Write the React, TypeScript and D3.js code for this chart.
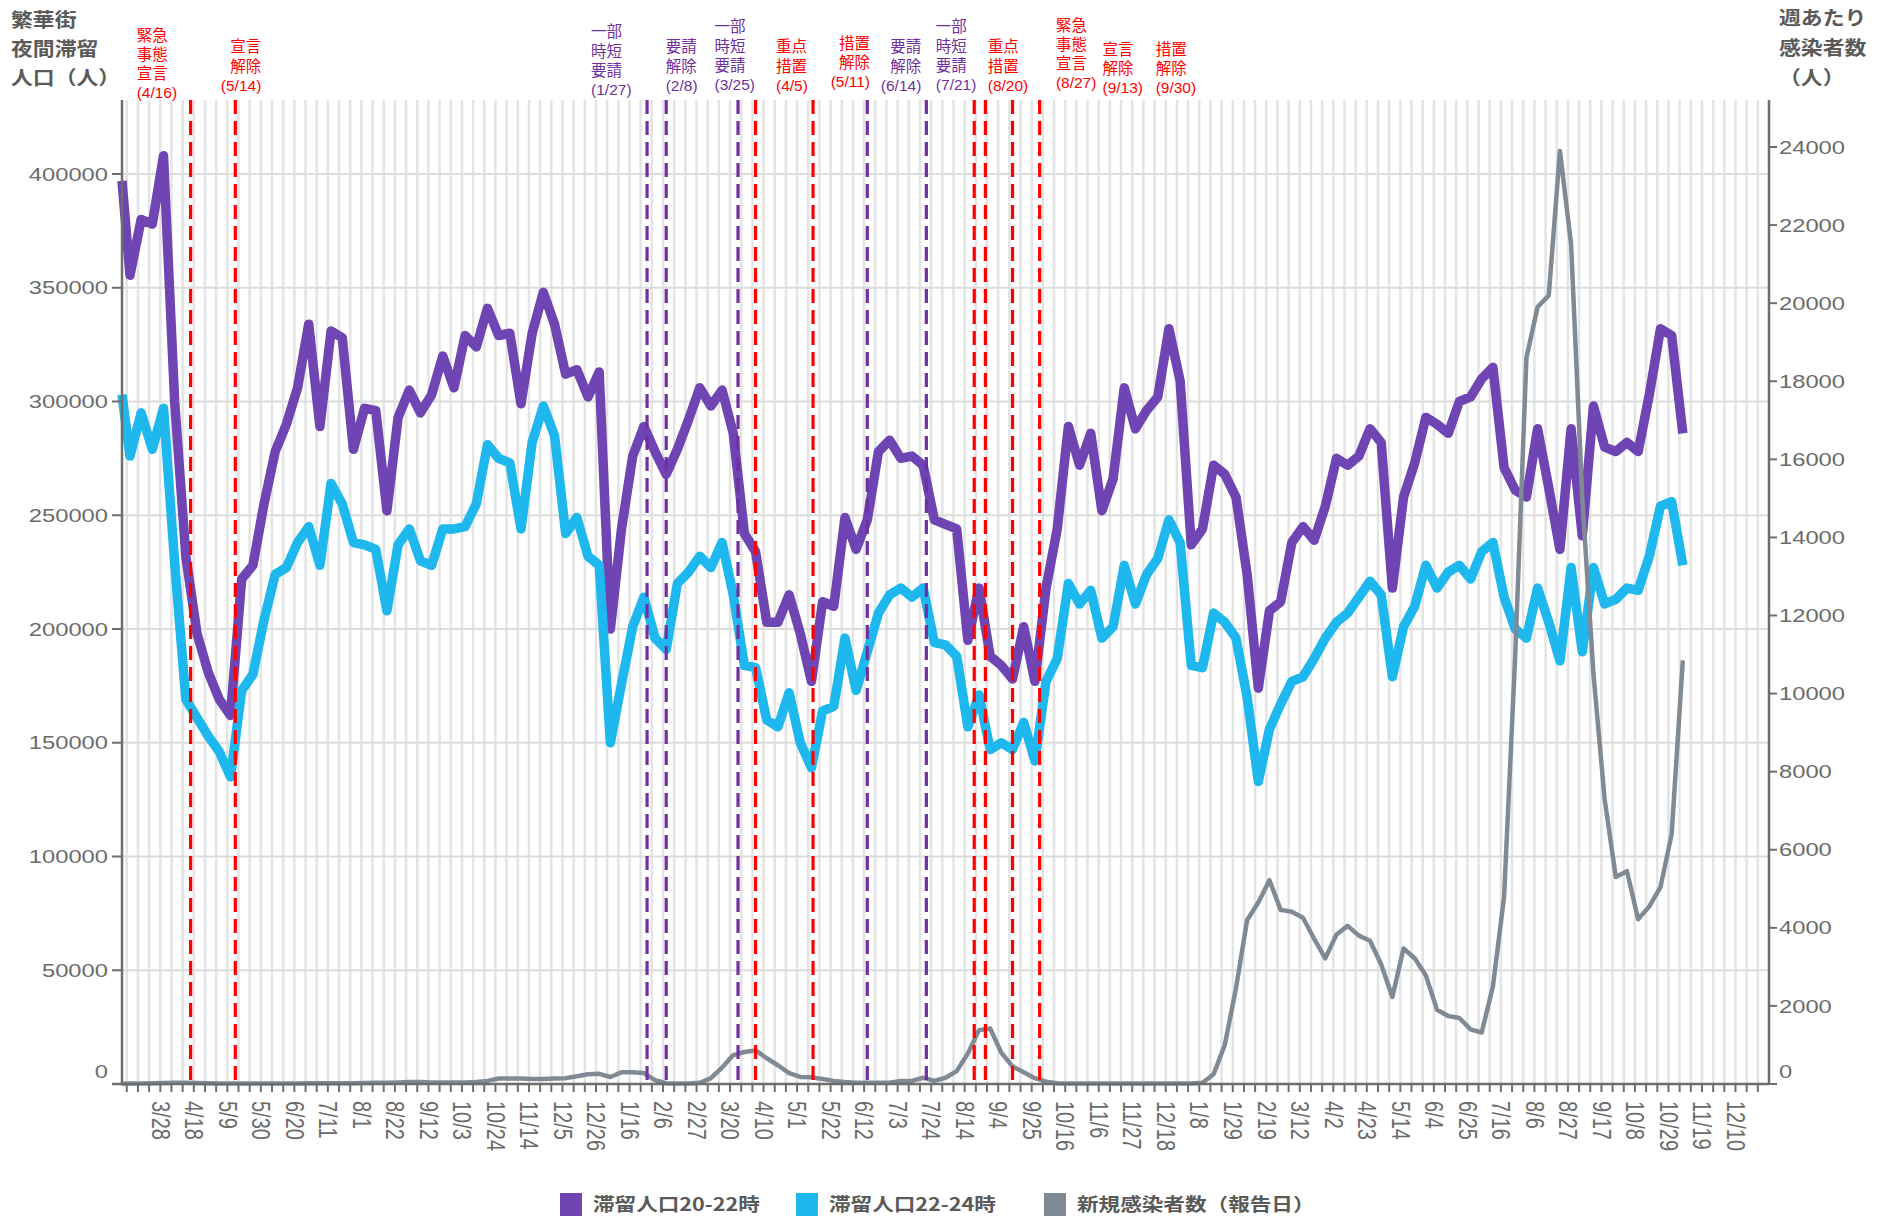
import React from 'react';
import * as d3 from 'd3';

// first point sits on the axis start (2020-03-04); then weekly points from 2020-03-09
const axisStart = new Date(2020, 2, 4);
const axisEnd = new Date(2022, 11, 31);
const firstWeek = new Date(2020, 2, 9);
const stay2022 = [397000, 355500, 380000, 378000, 408000, 300000, 232000, 198000, 181000, 169000, 162000,
  222000, 228000, 255000, 278000, 290000, 306000, 334000, 289000, 331000, 328000,
  279000, 297000, 296000, 252000, 293000, 305000, 295000, 303000, 320000, 306000,
  329000, 324000, 341000, 329000, 330000, 299000, 330000, 348000, 334000, 312000,
  314000, 302000, 313000, 200000, 244000, 276000, 289000, 278000, 268000, 279000,
  292000, 306000, 298000, 305000, 286000, 242000, 234000, 203000, 203000, 215000,
  198000, 177000, 212000, 210000, 249000, 235000, 248000, 278000, 283000, 275000,
  276000, 272000, 248000, 246000, 244000, 195000, 218000, 188000, 184000, 178000,
  201000, 177000, 218000, 244000, 289000, 272000, 286000, 252000, 266000, 306000,
  288000, 296000, 302000, 332000, 309000, 237000, 244000, 272000, 268000, 258000,
  224000, 174000, 208000, 212000, 238000, 245000, 239000, 254000, 275000, 272000,
  276000, 288000, 282000, 218000, 258000, 273000, 293000, 290000, 286000, 300000,
  302000, 310000, 315000, 271000, 261000, 258000, 288000, 262000, 235000, 288000,
  241000, 298000, 280000, 278000, 282000, 278000, 303000, 332000, 329000, 286000];
const stay2224 = [303000, 276000, 295000, 279000, 297000, 229000, 169000, 161000, 153000, 146000, 135000,
  173000, 180000, 204000, 224000, 227000, 238000, 245000, 228000, 264000, 255000,
  238000, 237000, 235000, 208000, 237000, 244000, 230000, 228000, 244000, 244000,
  245000, 255000, 281000, 275000, 273000, 244000, 282000, 298000, 285000, 242000,
  249000, 232000, 228000, 150000, 176000, 201000, 214000, 196000, 191000, 220000,
  225000, 232000, 227000, 238000, 215000, 184000, 183000, 160000, 157000, 172000,
  150000, 139000, 164000, 166000, 196000, 173000, 190000, 207000, 215000, 218000,
  214000, 218000, 194000, 193000, 188000, 157000, 171000, 147000, 150000, 147000,
  159000, 142000, 177000, 187000, 220000, 211000, 217000, 196000, 201000, 228000,
  211000, 224000, 231000, 248000, 238000, 184000, 183000, 207000, 203000, 196000,
  170000, 133000, 156000, 167000, 177000, 179000, 187000, 196000, 203000, 207000,
  214000, 221000, 215000, 179000, 201000, 210000, 228000, 218000, 225000, 228000,
  222000, 234000, 238000, 214000, 200000, 196000, 218000, 203000, 186000, 227000,
  190000, 227000, 211000, 213000, 218000, 217000, 232000, 254000, 256000, 228000];
const newCases = [5, 10, 15, 20, 25, 30, 30, 25, 20, 15, 10,
  10, 10, 10, 10, 10, 15, 20, 20, 20, 20,
  20, 25, 30, 30, 40, 50, 50, 40, 40, 40,
  40, 50, 80, 140, 140, 140, 130, 130, 140, 150,
  200, 250, 260, 180, 300, 300, 280, 100, 20, 10,
  10, 30, 150, 420, 740, 820, 860, 660, 480, 280,
  180, 170, 130, 80, 50, 30, 30, 30, 30, 80,
  80, 160, 80, 160, 330, 780, 1380, 1420, 800, 450,
  300, 150, 60, 20, 10, 10, 10, 10, 10, 10,
  10, 10, 10, 10, 10, 10, 30, 250, 1000, 2450,
  4200, 4650, 5220, 4460, 4410, 4260, 3720, 3220, 3830, 4050,
  3800, 3670, 3060, 2230, 3470, 3220, 2780, 1900, 1740, 1690,
  1400, 1320, 2500, 4790, 11000, 18600, 19900, 20200, 23900, 21500,
  15000, 10500, 7300, 5300, 5450, 4220, 4550, 5040, 6400, 10850];

const leftTicks = [0, 50000, 100000, 150000, 200000, 250000, 300000, 350000, 400000];
const rightTicks = [0, 2000, 4000, 6000, 8000, 10000, 12000, 14000, 16000, 18000, 20000, 22000, 24000];
const firstTickDay = new Date(2020, 2, 7);

const seriesNames = ['滞留人口20-22時', '滞留人口22-24時', '新規感染者数（報告日）'];
const seriesColors = ['#6e45b3', '#1fb8ee', '#808a95'];

const RED = '#ff0000';
const PUR = '#7030a0';
const eventDates = [new Date(2020, 3, 16), new Date(2020, 4, 14), new Date(2021, 0, 27), new Date(2021, 1, 8),
  new Date(2021, 2, 25), new Date(2021, 3, 5), new Date(2021, 4, 11), new Date(2021, 5, 14), new Date(2021, 6, 21),
  new Date(2021, 7, 20), new Date(2021, 7, 27), new Date(2021, 8, 13), new Date(2021, 8, 30)];
const eventLines = [['緊急', '事態', '宣言', '(4/16)'], ['宣言', '解除', '(5/14)'], ['一部', '時短', '要請', '(1/27)'],
  ['要請', '解除', '(2/8)'], ['一部', '時短', '要請', '(3/25)'], ['重点', '措置', '(4/5)'], ['措置', '解除', '(5/11)'],
  ['要請', '解除', '(6/14)'], ['一部', '時短', '要請', '(7/21)'], ['重点', '措置', '(8/20)'], ['緊急', '事態', '宣言', '(8/27)'],
  ['宣言', '解除', '(9/13)'], ['措置', '解除', '(9/30)']];
const eventColors = [RED, RED, PUR, PUR, PUR, RED, RED, PUR, PUR, RED, RED, RED, RED];
// label layout: horizontal offset from the event line, anchor, first-line centre y
const eventLabelDx = [-54, 26, -56, -0.5, -23.5, 20.4, 57, 54, 9.5, 13.5, 70.5, 90, 116];
const eventAnchor = ['start', 'end', 'start', 'start', 'start', 'start', 'end', 'end', 'start', 'start', 'start', 'start', 'start'];
const eventTop = [35, 46.7, 31.7, 46.7, 26.7, 46.7, 43.3, 46.7, 26.7, 46.7, 25, 49.3, 49.3];

const NUM_FONT = '"Liberation Sans", Arial, "Noto Sans CJK JP", sans-serif';
const JP_FONT = '"Noto Sans CJK JP", "Liberation Sans", sans-serif';
const LABEL_FONT = '"Liberation Sans", Arial, "Noto Sans CJK JP", sans-serif';

export default function App() {
  const W = 1879, H = 1217;
  const left = 122, right = 1769, top = 100, bottom = 1084;
  const x = d3.scaleTime().domain([axisStart, axisEnd]).range([left, right]);
  const yL = d3.scaleLinear().domain([0, 400000]).range([bottom, 174]);
  const yR = d3.scaleLinear().domain([0, 24000]).range([bottom, 147]);
  const dates = stay2022.map((_, i) => (i === 0 ? axisStart : d3.timeDay.offset(firstWeek, 7 * (i - 1))));
  const weekTicks: Date[] = [];
  for (let d = firstTickDay; d < axisEnd; d = d3.timeDay.offset(d, 7)) weekTicks.push(d);

  const lineL = d3.line<number>().x((_, i) => x(dates[i])).y(d => yL(d));
  const lineR = d3.line<number>().x((_, i) => x(dates[i])).y(d => yR(d));

  const TICK_SX = 1.25;
  const tickFs = 19;
  const tickColor = '#6b6b6b';
  const axisColor = '#6e6e6e';

  return (
    <svg width={W} height={H} style={{ position: 'absolute', left: 0, top: 0, background: '#fff' }}>
      <rect x={0} y={0} width={W} height={H} fill="#fff" />
      {/* vertical weekly grid */}
      {weekTicks.map((d, i) => (
        <line key={'vg' + i} x1={x(d)} x2={x(d)} y1={top} y2={bottom} stroke="#e4e4e4" strokeWidth={2.5} />
      ))}
      {/* horizontal grid */}
      {leftTicks.filter(v => v > 0).map(v => (
        <line key={'hg' + v} x1={left} x2={right} y1={yL(v)} y2={yL(v)} stroke="#dcdcdc" strokeWidth={2} />
      ))}
      {/* series */}
      <g fill="none" strokeLinejoin="round">
        <path d={lineL(stay2022) || ''} stroke={seriesColors[0]} strokeWidth={9.5} />
        <path d={lineL(stay2224) || ''} stroke={seriesColors[1]} strokeWidth={9.5} />
        <path d={lineR(newCases) || ''} stroke={seriesColors[2]} strokeWidth={4.5} />
      </g>
      {/* event lines */}
      {eventDates.map((d, i) => (
        <line key={'ev' + i} x1={x(d)} x2={x(d)} y1={top} y2={bottom} stroke={eventColors[i]} strokeWidth={3.2} strokeDasharray="14,7" />
      ))}
      {/* axes */}
      <line x1={left} x2={left} y1={top} y2={bottom} stroke={axisColor} strokeWidth={2.5} />
      <line x1={right} x2={right} y1={top} y2={bottom} stroke={axisColor} strokeWidth={2.5} />
      <line x1={left - 10} x2={right} y1={bottom} y2={bottom} stroke={axisColor} strokeWidth={2.5} />
      {leftTicks.map(v => (
        <g key={'lt' + v}>
          <line x1={left - 10} x2={left} y1={yL(v)} y2={yL(v)} stroke={axisColor} strokeWidth={2} />
          <text transform={`translate(108,${yL(v) - (v === 0 ? 13 : 0)}) scale(${TICK_SX},1)`} textAnchor="end" dy="0.35em"
            fontSize={tickFs} fontFamily={NUM_FONT} fill={tickColor}>{v}</text>
        </g>
      ))}
      {rightTicks.map(v => (
        <g key={'rt' + v}>
          <line x1={right} x2={right + 8} y1={yR(v)} y2={yR(v)} stroke={axisColor} strokeWidth={2} />
          <text transform={`translate(1779,${yR(v) - (v === 0 ? 13 : 0)}) scale(${TICK_SX},1)`} textAnchor="start" dy="0.35em"
            fontSize={tickFs} fontFamily={NUM_FONT} fill={tickColor}>{v}</text>
        </g>
      ))}
      {weekTicks.map((d, i) => (
        <g key={'bt' + i}>
          <line x1={x(d)} x2={x(d)} y1={bottom} y2={bottom + 8} stroke={axisColor} strokeWidth={2} />
          {i % 3 === 0 && i > 0 ? (
            <text transform={`translate(${x(d)},1101) scale(${TICK_SX},1) rotate(90)`} textAnchor="start" dy="0.35em"
              fontSize={20} fontFamily={NUM_FONT} fill={tickColor}>{`${d.getMonth() + 1}/${d.getDate()}`}</text>
          ) : null}
        </g>
      ))}
      {/* event labels */}
      {eventDates.map((d, i) => (
        <g key={'el' + i}>
          {eventLines[i].map((t, j) => (
            <text key={j} x={x(d) + eventLabelDx[i]} y={eventTop[i] + j * 19.3} dy="0.36em" textAnchor={eventAnchor[i] as any}
              fontSize={15.5} fontFamily={LABEL_FONT} fill={eventColors[i]}>{t}</text>
          ))}
        </g>
      ))}
      {/* axis titles */}
      {['繁華街', '夜間滞留', '人口（人）'].map((t, j) => (
        <text key={'lt' + j} transform={`translate(11,${20 + j * 29}) scale(1.15,1)`} dy="0.36em" fontSize={19} fontWeight="bold"
          fontFamily={JP_FONT} fill="#5a5a5a">{t}</text>
      ))}
      {['週あたり', '感染者数', '（人）'].map((t, j) => (
        <text key={'rtt' + j} transform={`translate(1779,${18 + j * 30}) scale(1.15,1)`} dy="0.36em" fontSize={19} fontWeight="bold"
          fontFamily={JP_FONT} fill="#5a5a5a">{t}</text>
      ))}
      {/* legend */}
      {seriesNames.map((n, i) => {
        const lx = [560, 796, 1044][i];
        return (
          <g key={'lg' + i}>
            <rect x={lx} y={1193} width={22} height={23} fill={seriesColors[i]} />
            <text transform={`translate(${lx + 33},1205) scale(1.2,1)`} dy="0.36em" fontSize={18} fontWeight="bold"
              fontFamily={JP_FONT} fill="#5a5a5a">{n}</text>
          </g>
        );
      })}
    </svg>
  );
}
